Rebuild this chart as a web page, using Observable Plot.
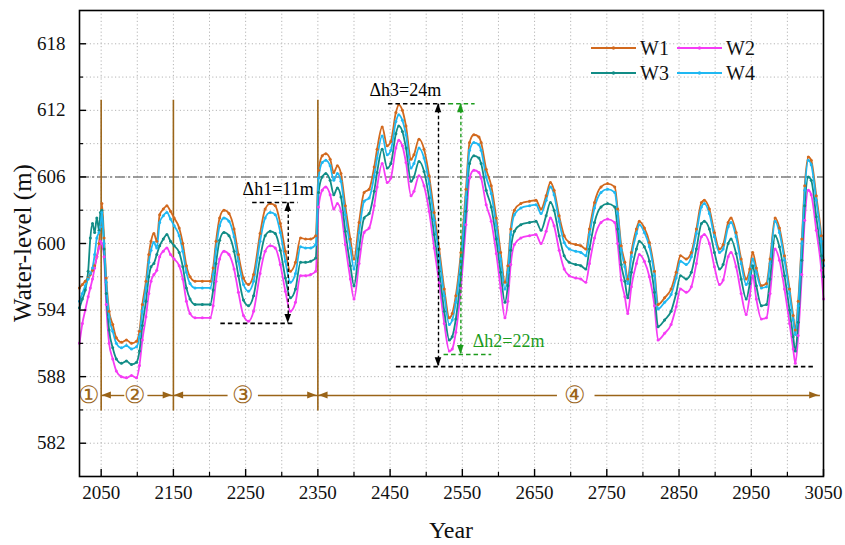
<!DOCTYPE html>
<html><head><meta charset="utf-8">
<script src="https://cdn.jsdelivr.net/npm/d3@7"></script>
<script src="https://cdn.jsdelivr.net/npm/@observablehq/plot@0.6"></script>
<style>
body{margin:0;background:#fff}
#chart svg{display:block}
#chart svg text{font-family:"Liberation Serif","Times New Roman",serif}
</style>
</head><body><div id="chart"></div>
<script>
// ---------------- data ----------------
const years = [2020,2024,2028,2032,2035,2038,2041,2044,2047,2049,
2051,2054,2057,2061,2066,2071,2078,2085,2092,2099,
2103,2107,2112,2116,2119,2123,2127,2131,2136,2141,
2146,2151,2158,2163,2168,2173,2180,2190,2201,2205,
2209,2214,2220,2227,2234,2240,2247,2254,2261,2270,
2277,2284,2291,2298,2305,2312,2319,2326,2333,2340,
2347,2351,2356,2361,2367,2372,2377,2382,2388,2395,
2400,2407,2414,2421,2428,2432,2439,2446,2451,2458,
2462,2467,2472,2479,2483,2490,2497,2504,2511,2518,
2525,2532,2536,2541,2548,2555,2560,2566,2573,2576,
2583,2590,2597,2603,2609,2613,2617,2622,2631,2643,
2652,2659,2666,2672,2677,2684,2691,2698,2707,2714,
2721,2726,2733,2742,2751,2761,2765,2770,2775,2779,
2784,2791,2795,2802,2809,2816,2821,2830,2839,2846,
2852,2860,2867,2874,2881,2885,2892,2899,2906,2911,
2918,2922,2929,2936,2943,2948,2952,2957,2964,2971,
2976,2983,2989,2996,3003,3008,3011,3015,3020,3024,
3029,3033,3040,3047,3050];

const W1 = [596.0,596.3,596.6,596.9,597.2,597.6,598.0,598.8,600.0,601.5,
603.6,600.5,596.9,593.9,592.7,591.5,591.1,591.3,591.0,591.2,
592.1,594.5,596.6,599.0,600.2,600.9,600.2,602.6,603.1,603.4,
602.9,602.3,601.4,600.0,598.0,597.0,596.6,596.6,596.6,597.8,
600.2,602.3,603.0,602.7,601.3,599.0,596.9,596.3,597.2,600.9,
603.1,603.6,603.4,601.8,599.3,597.5,598.3,600.5,600.4,600.4,
600.7,606.6,607.9,608.1,607.6,606.4,607.0,606.3,603.4,600.4,
598.6,601.9,604.6,604.9,606.9,608.5,610.5,608.8,609.2,611.8,
612.5,612.0,610.6,607.6,608.0,609.4,608.5,606.1,602.8,599.5,
595.9,593.3,593.7,595.3,599.2,604.9,609.1,609.8,609.6,609.1,
606.7,605.2,602.3,599.2,596.5,598.0,601.3,603.0,603.6,603.8,
603.9,603.1,604.3,605.5,604.8,602.5,600.7,600.1,599.9,599.8,
599.5,601.3,603.7,605.1,605.4,605.1,603.1,599.8,598.3,596.8,
599.2,601.3,602.0,601.4,600.1,597.5,594.5,595.1,595.9,597.4,
598.9,598.6,599.2,601.3,603.7,603.9,603.1,601.0,599.5,599.9,
601.9,602.3,601.0,598.6,596.8,597.7,599.2,597.8,596.2,596.4,
598.6,602.3,601.4,598.9,595.9,593.5,592.2,594.8,600.4,605.2,
607.8,607.5,604.3,600.7,598.5];

const W2 = [591.0,592.8,594.0,595.2,596.0,596.8,597.8,598.8,599.6,600.2,
600.0,598.8,594.5,591.0,589.6,588.5,588.0,587.9,588.1,587.9,
589.0,591.3,593.4,595.5,596.6,597.2,597.6,598.8,599.3,599.6,
599.0,598.6,598.0,596.8,594.8,593.7,593.3,593.3,593.3,594.4,
596.6,598.6,599.3,599.0,597.7,595.6,593.5,593.0,593.9,597.3,
599.3,599.8,599.6,598.1,595.7,593.9,594.7,597.1,597.1,597.2,
597.5,603.3,604.8,605.1,604.4,603.1,603.6,602.9,599.9,596.8,
595.0,598.2,601.0,601.4,603.4,605.1,607.2,605.5,605.9,608.6,
609.3,608.8,607.3,604.3,604.7,606.1,605.2,602.9,599.6,596.4,
592.8,590.3,590.5,592.0,596.0,601.7,605.9,606.6,606.4,605.9,
603.5,602.0,599.1,596.0,593.3,594.8,598.1,599.9,600.5,600.7,
600.8,600.0,601.1,602.3,601.6,599.4,597.7,597.1,596.9,596.8,
596.5,598.2,600.5,601.9,602.2,601.9,600.0,596.7,595.2,593.7,
596.1,598.2,599.0,598.4,597.0,594.4,591.3,591.9,592.7,594.3,
595.9,595.6,596.1,598.2,600.6,600.8,600.0,597.9,596.3,596.7,
598.8,599.2,597.9,595.5,593.6,595.3,597.1,595.0,593.2,593.3,
595.5,599.5,598.5,595.9,592.8,590.5,589.2,591.7,597.2,602.1,
604.8,604.4,601.2,597.6,595.0];

const W3 = [594.2,595.0,595.8,597.5,600.5,601.8,601.0,602.3,601.2,602.8,
603.0,599.5,595.5,592.2,590.6,589.6,589.2,589.4,589.1,589.3,
590.3,592.6,594.8,597.0,597.9,598.2,599.0,599.8,600.4,600.8,
600.2,599.8,599.2,597.9,596.0,595.0,594.5,594.5,594.5,595.8,
598.2,600.3,601.0,600.7,599.3,597.1,594.9,594.4,595.3,598.7,
600.7,601.1,600.9,599.4,596.9,595.1,595.9,598.3,598.3,598.4,
598.7,604.6,606.0,606.3,605.7,604.4,605.0,604.2,601.1,598.0,
596.2,599.5,602.3,602.7,604.7,606.4,608.5,606.8,607.2,609.9,
610.6,610.1,608.6,605.6,606.0,607.4,606.5,604.1,600.8,597.5,
593.9,591.3,591.6,593.2,597.2,602.9,607.2,607.9,607.7,607.2,
604.8,603.3,600.4,597.4,594.7,596.2,599.4,601.1,601.7,601.9,
602.0,601.2,602.5,603.7,603.0,600.7,598.9,598.3,598.1,598.0,
597.7,599.5,601.9,603.3,603.6,603.3,601.3,598.1,596.6,595.1,
597.4,599.5,600.2,599.7,598.4,595.6,592.5,593.1,593.9,595.5,
597.1,596.8,597.4,599.5,601.8,602.0,601.3,599.2,597.7,598.1,
600.0,600.4,599.1,596.8,595.0,596.4,598.0,596.2,594.4,594.5,
596.8,600.7,599.7,597.1,594.0,591.6,590.3,592.9,598.5,603.4,
606.0,605.7,602.4,598.9,597.0];

const W4 = [594.8,595.5,596.2,596.8,597.3,597.8,599.0,600.5,601.0,601.5,
602.8,600.0,596.5,593.4,592.1,591.0,590.6,590.8,590.5,590.7,
591.6,593.9,596.0,598.3,599.4,600.1,599.6,601.9,602.5,602.8,
602.2,601.6,600.7,599.3,597.4,596.4,596.0,596.0,596.0,597.2,
599.5,601.6,602.3,602.0,600.6,598.4,596.3,595.7,596.6,600.2,
602.3,602.8,602.6,601.0,598.4,596.5,597.3,599.7,599.6,599.6,
599.9,605.9,607.3,607.5,607.0,605.7,606.3,605.6,602.6,599.6,
597.7,601.0,603.8,604.1,606.1,607.7,609.7,608.0,608.4,611.0,
611.6,611.1,609.8,606.8,607.2,608.6,607.7,605.4,602.1,598.9,
595.3,592.7,593.1,594.7,598.6,604.2,608.4,609.1,608.9,608.4,
606.0,604.5,601.6,598.6,595.9,597.4,600.8,602.6,603.2,603.4,
603.5,602.7,603.9,605.1,604.4,602.0,600.1,599.5,599.3,599.2,
598.9,600.8,603.2,604.6,604.9,604.6,602.7,599.4,597.9,596.4,
598.8,600.9,601.7,601.0,599.7,597.1,594.1,594.7,595.4,596.9,
598.4,598.1,598.8,600.9,603.3,603.6,602.7,600.6,599.2,599.5,
601.5,601.9,600.6,598.2,596.3,597.2,598.6,597.4,596.0,596.1,
598.2,602.0,601.0,598.5,595.5,593.1,591.8,594.4,600.0,604.8,
607.5,607.1,603.9,600.2,598.0];

const seriesNames = ["W1","W2","W3","W4"];
const seriesValues = [W1, W2, W3, W4];
const seriesColors = ["#d2691e","#f53cf5","#118c86","#1fb8f2"];

const yMajorTicks = [582,588,594,600,606,612,618];
const yMinorTicks = [585,591,597,603,609,615];
const xMajorTicks = [2050,2150,2250,2350,2450,2550,2650,2750,2850,2950,3050];
const xMinorTicks = [2100,2200,2300,2400,2500,2600,2700,2800,2900,3000];
const yGridLines = [582,585,588,591,594,597,600,603,606,609,612,615,618];
const xGridLines = [2050,2100,2150,2200,2250,2300,2350,2400,2450,2500,2550,2600,2650,2700,2750,2800,2850,2900,2950,3000];

const referenceLevel = 606;

// stage boundaries and stage labels
const stageBounds = [2050, 2150, 2350];
const stageBoundTop = 612.9, stageBoundBottom = 584.9;
const stageLabels = ["①","②","③","④"];
const stageLabelX = [2033, 2097, 2246, 2706];
const stageArrowY = 586.3;
const stageArrows = [
  {x1: 2050, x2: 2150, gapL: 2082, gapR: 2114},
  {x1: 2150, x2: 2350, gapL: 2225, gapR: 2267},
  {x1: 2350, x2: 3045, gapL: 2681, gapR: 2733}
];

// water-level difference annotations
const BLACK = "#000", GREEN = "#1c9c1c";
const dashLines = [
  {x1: 2259, x2: 2322, y: 603.7, c: BLACK},
  {x1: 2215, x2: 2316, y: 592.8, c: BLACK},
  {x1: 2447, x2: 2531, y: 612.6, c: BLACK},
  {x1: 2531, x2: 2567, y: 612.6, c: GREEN},
  {x1: 2458, x2: 3036, y: 588.9, c: BLACK},
  {x1: 2524, x2: 2590, y: 590.0, c: GREEN}
];
const dashArrows = [
  {x: 2309, y1: 603.7, y2: 592.8, c: BLACK},
  {x: 2517, y1: 612.6, y2: 588.9, c: BLACK},
  {x: 2548, y1: 612.6, y2: 590.0, c: GREEN}
];
const deltaLabels = [
  {t: "Δh1=11m", x: 2295, y: 604.9, c: BLACK},
  {t: "Δh3=24m", x: 2471, y: 613.8, c: BLACK},
  {t: "Δh2=22m", x: 2614, y: 591.2, c: GREEN}
];

// ---------------- build ----------------
const FONT = "Liberation Serif, Times New Roman, serif";
const rows = [];
seriesNames.forEach((name, i) => {
  years.forEach((yr, j) => rows.push({year: yr, level: seriesValues[i][j], series: name}));
});

const segs = [], heads = [];
stageArrows.forEach(a => {
  segs.push({x1: a.x1, x2: a.gapL}, {x1: a.gapR, x2: a.x2});
  heads.push({x: a.x1, dir: -1}, {x: a.x2, dir: 1});
});
const vHeads = [];
dashArrows.forEach(a => { vHeads.push({x: a.x, y: a.y1, dir: -1, c: a.c}, {x: a.x, y: a.y2, dir: 1, c: a.c}); });

const BROWN = "#9a6418";

const chart = Plot.plot({
  width: 845, height: 545,
  marginLeft: 79, marginRight: 22, marginTop: 10, marginBottom: 69,
  style: {fontFamily: FONT, background: "#fff", overflow: "visible"},
  x: {domain: [2020, 3050]},
  y: {domain: [579, 621]},
  color: {domain: seriesNames, range: seriesColors},
  marks: [
    Plot.gridX(xGridLines, {stroke: "#b5b5b5", strokeOpacity: 1, strokeDasharray: "1.2,2.4", strokeWidth: 1}),
    Plot.gridY(yGridLines, {stroke: "#b5b5b5", strokeOpacity: 1, strokeDasharray: "1.2,2.4", strokeWidth: 1}),
    Plot.ruleY([referenceLevel], {stroke: "#7f7f7f", strokeWidth: 1.6, strokeDasharray: "10,3,2,3"}),
    Plot.ruleX(stageBounds, {y1: stageBoundBottom, y2: stageBoundTop, stroke: BROWN, strokeWidth: 1.6}),
    Plot.link(segs, {x1: "x1", x2: "x2", y1: stageArrowY, y2: stageArrowY, stroke: BROWN, strokeWidth: 1.4}),
    Plot.text(stageLabels, {x: (d, i) => stageLabelX[i], y: stageArrowY, text: d => d, fill: BROWN, fontSize: 24, textAnchor: "middle"}),
    Plot.line(rows, {x: "year", y: "level", z: "series", stroke: "series", strokeWidth: 1.8, curve: "monotone-x"}),
    Plot.dot(rows, {x: "year", y: "level", fill: "series", r: 1.5, stroke: null}),
    Plot.link(dashLines, {x1: "x1", x2: "x2", y1: "y", y2: "y", stroke: "c", strokeWidth: 1.6, strokeDasharray: "4.5,3"}),
    Plot.link(dashArrows, {x1: "x", x2: "x", y1: d => d.y1, y2: d => d.y2, stroke: "c", strokeWidth: 1.4, strokeDasharray: "3.5,2.5"}),
    Plot.text(deltaLabels, {x: "x", y: "y", text: "t", fill: "c", fontSize: 18, fontFamily: FONT, textAnchor: "middle"}),
    Plot.axisY(yMajorTicks, {anchor: "left", tickSize: 0, tickPadding: 14, fontSize: 19, fontFamily: FONT, tickFormat: d => String(d), label: null, fill: "#111"}),
    Plot.axisY(yMajorTicks, {anchor: "left", tickSize: 7, dx: 7, fill: "none", label: null, strokeWidth: 1.4, stroke: "#000"}),
    Plot.axisY(yMinorTicks, {anchor: "left", tickSize: 4, dx: 4, fill: "none", label: null, strokeWidth: 1.2, stroke: "#000"}),
    Plot.axisX(xMajorTicks, {anchor: "bottom", tickSize: 0, tickPadding: 9, fontSize: 19, fontFamily: FONT, tickFormat: d => String(d), label: null, fill: "#111"}),
    Plot.axisX(xMajorTicks, {anchor: "bottom", tickSize: 7, dy: -7, fill: "none", label: null, strokeWidth: 1.4, stroke: "#000"}),
    Plot.axisX(xMinorTicks, {anchor: "bottom", tickSize: 4, dy: -4, fill: "none", label: null, strokeWidth: 1.2, stroke: "#000"}),
    Plot.frame({stroke: "#000", strokeWidth: 1.6})
  ]
});
chart.setAttribute("font-family", FONT);
document.getElementById("chart").appendChild(chart);

// arrowheads (filled triangles, tip placed at the annotated value via the plot scales)
const sx = chart.scale("x"), sy = chart.scale("y");
const svg = d3.select(chart);
const hg = svg.append("g");
function tri(x, y, ang, color, len, half) {
  const c = Math.cos(ang), s = Math.sin(ang);
  const bx = x - c*len, by = y - s*len;
  const p = [[x,y],[bx - s*half, by + c*half],[bx + s*half, by - c*half]];
  hg.append("path").attr("d", "M" + p.map(q => q.join(",")).join("L") + "Z").attr("fill", color);
}
heads.forEach(h => tri(sx.apply(h.x) - h.dir*1.2, sy.apply(stageArrowY), h.dir > 0 ? 0 : Math.PI, BROWN, 9, 3.6));
vHeads.forEach(h => tri(sx.apply(h.x), sy.apply(h.y), h.dir > 0 ? Math.PI/2 : -Math.PI/2, h.c, 9, 3.3));

// legend
const lg = svg.append("g").attr("font-family", FONT).attr("text-anchor", "start");
seriesNames.forEach((n, i) => {
  const col = i % 2, row = Math.floor(i / 2);
  const x0 = 591 + col * 86, y0 = 48 + row * 25;
  lg.append("line").attr("x1", x0).attr("x2", x0 + 45).attr("y1", y0).attr("y2", y0)
    .attr("stroke", seriesColors[i]).attr("stroke-width", 2.2);
  lg.append("circle").attr("cx", x0 + 22.5).attr("cy", y0).attr("r", 1.7).attr("fill", seriesColors[i]);
  lg.append("text").attr("x", x0 + 49).attr("y", y0).attr("dy", "0.35em").attr("font-size", 20)
    .attr("text-anchor", "start").attr("fill", "#111").text(n);
});

// axis titles
svg.append("text").attr("x", 451).attr("y", 538).attr("text-anchor", "middle")
  .attr("font-size", 24).attr("font-family", FONT).attr("fill", "#111").text("Year");
svg.append("text").attr("transform", "translate(31,243) rotate(-90)").attr("text-anchor", "middle")
  .attr("font-size", 25).attr("font-family", FONT).attr("fill", "#111").text("Water-level (m)");
</script>
</body></html>
